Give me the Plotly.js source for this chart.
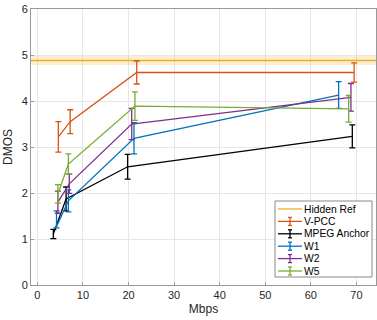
<!DOCTYPE html>
<html>
<head>
<meta charset="utf-8">
<script src="https://cdn.plot.ly/plotly-3.0.1.min.js"></script>
<style>html,body{margin:0;padding:0;background:#fff;}#chart{width:377px;height:320px;}</style>
</head>
<body>
<div id="chart"></div>
<script>
// Hidden reference (constant level with confidence band)
const hiddenRefX = [-5, 80];
const hiddenRefY = [4.88, 4.88];
const hiddenRefLo = [4.78, 4.78];
const hiddenRefHi = [4.98, 4.98];

// V-PCC
const vpccX = [4.6, 7.2, 21.8, 69.5];
const vpccY = [3.22, 3.55, 4.62, 4.62];
const vpccErr = [0.33, 0.26, 0.25, 0.21];

// MPEG Anchor
const mpegX = [3.5, 6.3, 19.8, 69.1];
const mpegY = [1.11, 1.87, 2.57, 3.23];
const mpegErr = [0.1, 0.26, 0.27, 0.25];

// W1
const w1X = [4.2, 6.8, 21.2, 66.1];
const w1Y = [1.27, 1.83, 3.19, 4.13];
const w1ErrPlus = [0.34, 0.24, 0.34, 0.29];
const w1ErrMinus = [0.03, 0.24, 0.34, 0.29];

// W2
const w2X = [4.5, 7.0, 20.7, 68.8];
const w2Y = [1.8, 2.2, 3.5, 4.08];
const w2Err = [0.24, 0.21, 0.34, 0.3];

// W5
const w5X = [4.5, 6.8, 21.4, 68.3];
const w5Y = [1.98, 2.63, 3.89, 3.83];
const w5Err = [0.2, 0.22, 0.31, 0.29];

const xTicks = [0, 10, 20, 30, 40, 50, 60, 70];
const yTicks = [0, 1, 2, 3, 4, 5, 6];

const legendNames = ['Hidden Ref', 'V-PCC', 'MPEG Anchor', 'W1', 'W2', 'W5'];
const legendColors = ['#EDB120', '#D95319', '#000000', '#0072BD', '#7E2F8E', '#77AC30'];
const legendHasErr = [false, true, true, true, true, true];

const FONT = 'Liberation Sans, Arial, sans-serif';

function series(name, x, y, ep, em, color) {
  return {
    type: 'scatter', mode: 'lines', name: name, x: x, y: y,
    line: {color: color, width: 1.3},
    error_y: {type: 'data', array: ep, arrayminus: em, symmetric: false,
              color: color, thickness: 1.3, width: 3},
  };
}

const traces = [
  {type: 'scatter', mode: 'lines', x: hiddenRefX, y: hiddenRefLo, line: {width: 0},
   hoverinfo: 'skip'},
  {type: 'scatter', mode: 'lines', x: hiddenRefX, y: hiddenRefHi, line: {width: 0},
   fill: 'tonexty', fillcolor: 'rgba(237,177,32,0.2)', hoverinfo: 'skip'},
  {type: 'scatter', mode: 'lines', name: 'Hidden Ref', x: hiddenRefX, y: hiddenRefY,
   line: {color: '#EDB120', width: 1.3}},
  series('V-PCC', vpccX, vpccY, vpccErr, vpccErr, '#D95319'),
  series('MPEG Anchor', mpegX, mpegY, mpegErr, mpegErr, '#000000'),
  series('W1', w1X, w1Y, w1ErrPlus, w1ErrMinus, '#0072BD'),
  series('W2', w2X, w2Y, w2Err, w2Err, '#7E2F8E'),
  series('W5', w5X, w5Y, w5Err, w5Err, '#77AC30'),
];

// Custom compact legend (paper coordinates)
const W = 377, H = 320, mL = 31, mR = 1, mT = 9, mB = 35;
const pw = W - mL - mR, ph = H - mT - mB;
const px = v => (v - mL) / pw;
const py = v => (H - mB - v) / ph;
const shapes = [];
const annotations = [];
const boxL = 275, boxR = 372, boxT = 201, boxB = 277;
shapes.push({type: 'rect', xref: 'paper', yref: 'paper', x0: px(boxL), x1: px(boxR), y0: py(boxB), y1: py(boxT),
  line: {color: '#888', width: 1}, fillcolor: '#fff', layer: 'above'});
legendNames.forEach((n, i) => {
  const yy = 209 + i * 12.4;
  const c = legendColors[i];
  shapes.push({type: 'line', xref: 'paper', yref: 'paper', x0: px(278), x1: px(302), y0: py(yy), y1: py(yy),
    line: {color: c, width: 1.3}, layer: 'above'});
  if (legendHasErr[i]) {
    shapes.push({type: 'line', xref: 'paper', yref: 'paper', x0: px(290), x1: px(290), y0: py(yy - 4), y1: py(yy + 4),
      line: {color: c, width: 1.3}, layer: 'above'});
    shapes.push({type: 'line', xref: 'paper', yref: 'paper', x0: px(288), x1: px(292), y0: py(yy - 4), y1: py(yy - 4),
      line: {color: c, width: 1.3}, layer: 'above'});
    shapes.push({type: 'line', xref: 'paper', yref: 'paper', x0: px(288), x1: px(292), y0: py(yy + 4), y1: py(yy + 4),
      line: {color: c, width: 1.3}, layer: 'above'});
  }
  annotations.push({xref: 'paper', yref: 'paper', x: px(302), y: py(yy), xanchor: 'left', yanchor: 'middle',
    text: n, showarrow: false, font: {family: FONT, size: 10.3, color: '#000'}});
});

const axisCommon = {
  showline: true, mirror: true, linecolor: '#999', linewidth: 1,
  showgrid: true, gridcolor: '#e6e6e6', zeroline: false,
  ticks: 'inside', ticklen: 3, tickcolor: '#999',
  tickfont: {family: FONT, size: 11, color: '#262626'},
};

const layout = {
  width: W, height: H,
  margin: {l: mL, r: mR, t: mT, b: mB},
  paper_bgcolor: '#fff', plot_bgcolor: '#fff',
  showlegend: false,
  shapes: shapes,
  annotations: annotations,
  xaxis: Object.assign({}, axisCommon, {
    range: [-1.4, 74.3], tickvals: xTicks, ticktext: xTicks.map(String),
    title: {text: 'Mbps', font: {family: FONT, size: 12, color: '#262626'}, standoff: 4},
  }),
  yaxis: Object.assign({}, axisCommon, {
    range: [0, 6], tickvals: yTicks, ticktext: yTicks.map(String),
    title: {text: 'DMOS', font: {family: FONT, size: 12, color: '#262626'}, standoff: 6},
  }),
};

Plotly.newPlot('chart', traces, layout, {displayModeBar: false, staticPlot: true});
</script>
</body>
</html>
